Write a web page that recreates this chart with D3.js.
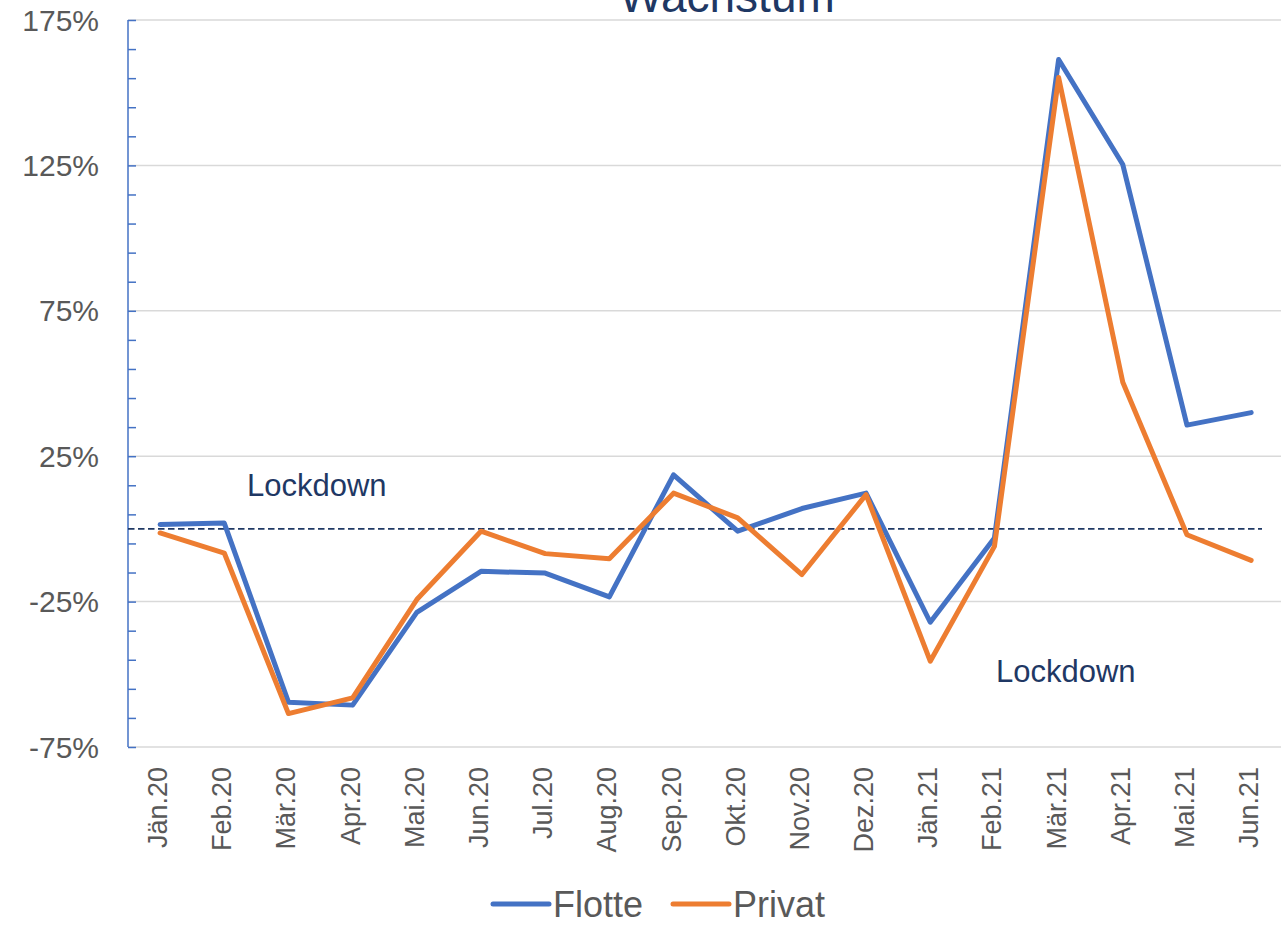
<!DOCTYPE html>
<html>
<head>
<meta charset="utf-8">
<script src="https://cdn.jsdelivr.net/npm/d3@7"></script>
<style>
html,body{margin:0;padding:0;background:#fff;}
svg{display:block;font-family:"Liberation Sans",Arial,sans-serif;}
</style>
</head>
<body>
<svg id="chart" width="1281" height="933"></svg>
<script>
const months = ["Jän.20","Feb.20","Mär.20","Apr.20","Mai.20","Jun.20","Jul.20","Aug.20","Sep.20","Okt.20","Nov.20","Dez.20","Jän.21","Feb.21","Mär.21","Apr.21","Mai.21","Jun.21"];
const flotte = [1.5, 2.0, -59.6, -60.6, -28.7, -14.6, -15.2, -23.4, 18.6, -0.8, 7.0, 12.3, -32.1, -3.1, 161.4, 125.3, 35.7, 40.0];
const privat = [-1.4, -8.3, -63.5, -58.1, -24.3, -0.8, -8.5, -10.3, 12.3, 3.8, -15.7, 11.8, -45.5, -6.0, 155.2, 50.4, -2.0, -10.8];
const yTickLabels = [175, 125, 75, 25, -25, -75];
const yMinorTicks = d3.range(175, -76, -10);
const seriesNames = ["Flotte", "Privat"];
const seriesColors = ["#4472C4", "#ED7D31"];
const title = "Wachstum";
const annotations = [{text:"Lockdown", x:247, y:496}, {text:"Lockdown", x:996, y:682}];

const svg = d3.select("#chart");
const x = d3.scaleBand().domain(months).range([128, 128 + 18*64.18]).padding(0);
const cx = d => x(d) + x.bandwidth()/2;
const y = d3.scaleLinear().domain([-75, 175]).range([747, 20]);

// gridlines
svg.append("g").selectAll("line").data(yTickLabels).join("line")
  .attr("x1", 128).attr("x2", 1283)
  .attr("y1", d => y(d)).attr("y2", d => y(d))
  .attr("stroke", "#d9d9d9").attr("stroke-width", 1.5);

// y axis
const yAxis = d3.axisRight(y).tickValues(yMinorTicks).tickSize(8).tickFormat("");
const gy = svg.append("g").attr("transform", "translate(128,0)").call(yAxis);
gy.select(".domain").attr("stroke", "#4472C4").attr("stroke-width", 1.5).attr("d", `M0,${y(175)}V${y(-75)}`);
gy.selectAll(".tick line").attr("stroke", "#4472C4").attr("stroke-width", 1.5);

// y labels
svg.append("g").selectAll("text").data(yTickLabels).join("text")
  .attr("x", 99).attr("y", d => y(d)).attr("dy", "0.35em")
  .attr("text-anchor", "end").attr("font-size", 30).attr("fill", "#595959")
  .text(d => d + "%");

// x labels
svg.append("g").selectAll("text").data(months).join("text")
  .attr("transform", d => `translate(${cx(d)+7},767) rotate(-90)`)
  .attr("text-anchor", "end").attr("font-size", 27).attr("fill", "#595959")
  .text(d => d);

// zero dashed line
svg.append("line").attr("x1", 128).attr("x2", 1262).attr("y1", y(0)).attr("y2", y(0))
  .attr("stroke", "#1F3864").attr("stroke-width", 1.8).attr("stroke-dasharray", "6.5,3.5");

// lines
const line = d3.line().x((d,i) => cx(months[i])).y(d => y(d));
[flotte, privat].forEach((s, k) => {
  svg.append("path").datum(s).attr("d", line)
    .attr("fill", "none").attr("stroke", seriesColors[k]).attr("stroke-width", 5)
    .attr("stroke-linejoin", "round").attr("stroke-linecap", "round");
});

// title
svg.append("text").attr("x", 727).attr("y", 12).attr("text-anchor", "middle")
  .attr("font-size", 46).attr("fill", "#1F3864").text(title);

// annotations
svg.append("g").selectAll("text").data(annotations).join("text")
  .attr("x", d => d.x).attr("y", d => d.y)
  .attr("font-size", 31).attr("fill", "#1F3864").text(d => d.text);

// legend
const legendX = [493, 673];
const lg = svg.append("g");
seriesNames.forEach((n, k) => {
  lg.append("line").attr("x1", legendX[k]).attr("x2", legendX[k] + 56).attr("y1", 904).attr("y2", 904)
    .attr("stroke", seriesColors[k]).attr("stroke-width", 5).attr("stroke-linecap", "round");
  lg.append("text").attr("x", legendX[k] + 60).attr("y", 917).attr("font-size", 36)
    .attr("fill", "#595959").text(n);
});
</script>
</body>
</html>
